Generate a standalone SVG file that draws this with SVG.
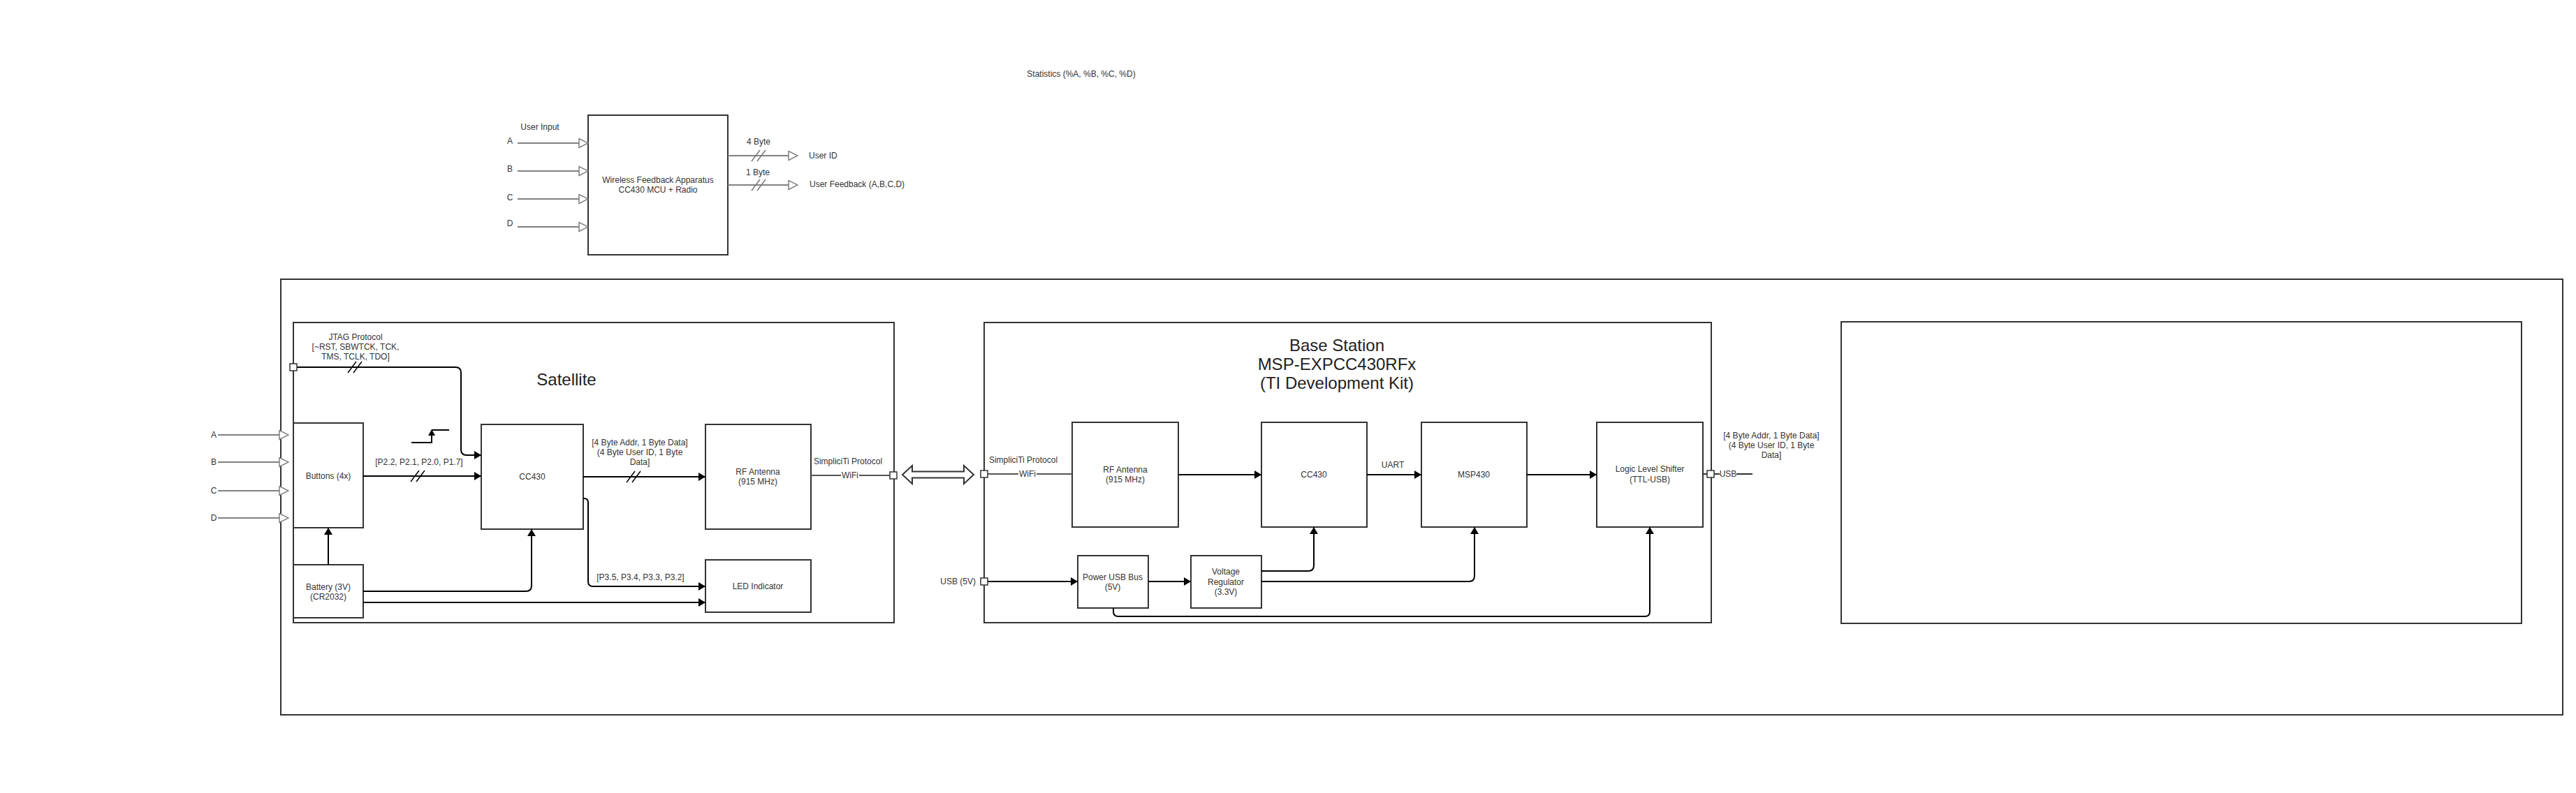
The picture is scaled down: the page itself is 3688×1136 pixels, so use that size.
<svg xmlns="http://www.w3.org/2000/svg" xmlns:xlink="http://www.w3.org/1999/xlink" width="3688" height="1136" viewBox="0 0 3688 1136">
<defs>
<style>
.box{fill:#fff;stroke:#333;stroke-width:2}
.frame{fill:none;stroke:#333;stroke-width:2}
.t{font-family:"Liberation Sans",Arial,sans-serif;font-size:12px;fill:#333;text-anchor:middle;dominant-baseline:central}
.ts{text-anchor:start}
.te{text-anchor:end}
.big{font-size:24px;fill:#222}
.w{fill:none;stroke:#000;stroke-width:2}
.g{fill:none;stroke:#808080;stroke-width:2}
.gd{fill:none;stroke:#555;stroke-width:2}
.port{fill:#fff;stroke:#333;stroke-width:1.5}
.sl{fill:none;stroke-width:1.5}
</style>
<marker id="ah" viewBox="0 0 10 12" refX="10" refY="6" markerWidth="10" markerHeight="12" orient="auto" markerUnits="userSpaceOnUse"><path d="M0,0 L10,6 L0,12 z" fill="#000"/></marker>
<marker id="oh" viewBox="0 0 15 15" refX="14" refY="7.5" markerWidth="15" markerHeight="15" orient="auto" markerUnits="userSpaceOnUse"><path d="M1,1 L14,7.5 L1,14 z" fill="#fff" stroke="#808080" stroke-width="1.5"/></marker>
<g id="slashG"><path class="sl" stroke="#777" d="M-10,8 L2,-8 M-2,8 L10,-8"/></g>
<g id="slashK"><path class="sl" stroke="#000" d="M-10,8 L2,-8 M-2,8 L10,-8"/></g>
</defs>
<rect width="3688" height="1136" fill="#fff"/>

<!-- top overview -->
<text class="t" x="1548" y="106">Statistics (%A, %B, %C, %D)</text>
<g id="apparatus">
<rect class="box" x="842" y="165" width="200" height="200"/>
<text class="t" x="942" y="258">Wireless Feedback Apparatus</text>
<text class="t" x="942" y="272">CC430 MCU + Radio</text>
</g>
<text class="t" x="773" y="182">User Input</text>
<text class="t" x="730" y="202">A</text>
<text class="t" x="730" y="242">B</text>
<text class="t" x="730" y="283">C</text>
<text class="t" x="730" y="320">D</text>
<text class="t" x="1086" y="203">4 Byte</text>
<text class="t" x="1085" y="247">1 Byte</text>
<text class="t ts" x="1158" y="223">User ID</text>
<text class="t ts" x="1159" y="264">User Feedback (A,B,C,D)</text>

<!-- outer frame and containers -->
<rect class="frame" x="402" y="400" width="3267" height="624"/>
<g id="satellite">
<rect class="box" x="420" y="462" width="860" height="430"/>
<text class="t big" x="811" y="543">Satellite</text>
</g>
<g id="base-station">
<rect class="box" x="1409" y="462" width="1041" height="430"/>
<text class="t big" x="1914" y="494">Base Station</text>
<text class="t big" x="1914" y="521">MSP-EXPCC430RFx</text>
<text class="t big" x="1914" y="548">(TI Development Kit)</text>
</g>
<g id="right-box">
<rect class="box" x="2636" y="461" width="974" height="432"/>
</g>

<!-- satellite nodes -->
<g id="buttons"><rect class="box" x="420" y="606" width="100" height="150"/><text class="t" x="470" y="682">Buttons (4x)</text></g>
<g id="cc430-sat"><rect class="box" x="689" y="608" width="146" height="150"/><text class="t" x="762" y="683">CC430</text></g>
<g id="battery"><rect class="box" x="420" y="809" width="100" height="76"/><text class="t" x="470" y="841">Battery (3V)</text><text class="t" x="470" y="855">(CR2032)</text></g>
<g id="rf-sat"><rect class="box" x="1010" y="608" width="151" height="150"/><text class="t" x="1085" y="676">RF Antenna</text><text class="t" x="1085" y="690">(915 MHz)</text></g>
<g id="led"><rect class="box" x="1010" y="802" width="151" height="75"/><text class="t" x="1085" y="840">LED Indicator</text></g>

<!-- base station nodes -->
<g id="rf-base"><rect class="box" x="1535" y="605" width="152" height="150"/><text class="t" x="1611" y="673">RF Antenna</text><text class="t" x="1611" y="687">(915 MHz)</text></g>
<g id="cc430-base"><rect class="box" x="1806" y="605" width="151" height="150"/><text class="t" x="1881" y="680">CC430</text></g>
<g id="msp430"><rect class="box" x="2035" y="605" width="151" height="150"/><text class="t" x="2110" y="680">MSP430</text></g>
<g id="shifter"><rect class="box" x="2286" y="605" width="152" height="150"/><text class="t" x="2362" y="672">Logic Level Shifter</text><text class="t" x="2362" y="687">(TTL-USB)</text></g>
<g id="power-usb"><rect class="box" x="1543" y="796" width="101" height="75"/><text class="t" x="1593" y="827">Power USB Bus</text><text class="t" x="1593" y="841">(5V)</text></g>
<g id="vreg"><rect class="box" x="1705" y="796" width="101" height="75"/><text class="t" x="1755" y="819">Voltage</text><text class="t" x="1755" y="834">Regulator</text><text class="t" x="1755" y="848">(3.3V)</text></g>

<!-- connectors -->
<g id="connectors">
<path class="g" d="M741,205 H842" marker-end="url(#oh)"/>
<path class="g" d="M741,245 H842" marker-end="url(#oh)"/>
<path class="g" d="M741,285 H842" marker-end="url(#oh)"/>
<path class="g" d="M741,325 H842" marker-end="url(#oh)"/>
<path class="g" d="M1042,223 H1142" marker-end="url(#oh)"/>
<path class="g" d="M1042,265 H1142" marker-end="url(#oh)"/>
<use xlink:href="#slashG" x="1086" y="223"/>
<use xlink:href="#slashG" x="1086" y="265"/>

<text class="t" x="306" y="623">A</text>
<text class="t" x="306" y="662">B</text>
<text class="t" x="306" y="703">C</text>
<text class="t" x="306" y="742">D</text>
<path class="g" d="M312,623 H413" marker-end="url(#oh)"/>
<path class="g" d="M312,662 H413" marker-end="url(#oh)"/>
<path class="g" d="M312,703 H413" marker-end="url(#oh)"/>
<path class="g" d="M312,742 H413" marker-end="url(#oh)"/>

<text class="t" x="509" y="483">JTAG Protocol</text>
<text class="t" x="509" y="497">[~RST, SBWTCK, TCK,</text>
<text class="t" x="509" y="511">TMS, TCLK, TDO]</text>
<path class="w" d="M425,526 H652 Q660,526 660,534 V644 Q660,652 668,652 H689" marker-end="url(#ah)"/>
<use xlink:href="#slashK" x="508" y="526"/>
<rect class="port" x="415" y="521" width="10" height="10"/>

<text class="t" x="600" y="662">[P2.2, P2.1, P2.0, P1.7]</text>
<path class="w" d="M520,682 H689" marker-end="url(#ah)"/>
<use xlink:href="#slashK" x="598" y="682"/>
<path class="w" d="M589,634 H618 V623 M618,616 H643"/>
<path d="M613,624 L618,615 L623,624 z" fill="#000"/>

<path class="w" d="M470,809 V756" marker-end="url(#ah)"/>
<path class="w" d="M520,847 H753 Q761,847 761,839 V758" marker-end="url(#ah)"/>
<path class="w" d="M520,863 H1010" marker-end="url(#ah)"/>

<text class="t" x="916" y="634">[4 Byte Addr, 1 Byte Data]</text>
<text class="t" x="916" y="648">(4 Byte User ID, 1 Byte</text>
<text class="t" x="916" y="662">Data]</text>
<path class="w" d="M835,683 H1010" marker-end="url(#ah)"/>
<use xlink:href="#slashK" x="907" y="683"/>

<text class="t" x="917" y="827">[P3.5, P3.4, P3.3, P3.2]</text>
<path class="w" d="M835,714 H836 Q842,714 842,720 V833 Q842,840 849,840 H1010" marker-end="url(#ah)"/>

<text class="t" x="1214" y="661">SimpliciTi Protocol</text>
<path class="gd" d="M1161,681 H1274"/>
<rect x="1204" y="674" width="26" height="14" fill="#fff"/>
<text class="t" x="1217" y="681">WiFi</text>
<rect class="port" x="1274" y="676" width="10" height="10"/>

<path d="M1292,680 L1306,667 L1306,675.5 L1380,675.5 L1380,667 L1394,680 L1380,693 L1380,684.5 L1306,684.5 L1306,693 z" fill="#fff" stroke="#333" stroke-width="2"/>

<text class="t" x="1465" y="659">SimpliciTi Protocol</text>
<path class="gd" d="M1414,679 H1535"/>
<rect x="1458" y="672" width="26" height="14" fill="#fff"/>
<text class="t" x="1471" y="679">WiFi</text>
<rect class="port" x="1404" y="674" width="10" height="10"/>

<path class="w" d="M1687,680 H1806" marker-end="url(#ah)"/>
<text class="t" x="1994" y="666">UART</text>
<path class="w" d="M1957,680 H2035" marker-end="url(#ah)"/>
<path class="w" d="M2186,680 H2286" marker-end="url(#ah)"/>

<text class="t te" x="1397" y="833">USB (5V)</text>
<path class="w" d="M1414,833 H1543" marker-end="url(#ah)"/>
<rect class="port" x="1404" y="828" width="10" height="10"/>
<path class="w" d="M1644,833 H1705" marker-end="url(#ah)"/>
<path class="w" d="M1806,818 H1873 Q1881,818 1881,810 V755" marker-end="url(#ah)"/>
<path class="w" d="M1806,833 H2103 Q2111,833 2111,825 V755" marker-end="url(#ah)"/>
<path class="w" d="M1594,871 V876 Q1594,883 1601,883 H2355 Q2362,883 2362,876 V755" marker-end="url(#ah)"/>

<path class="gd" d="M2438,679 H2509" style="stroke:#333"/>
<rect x="2462" y="672" width="24" height="14" fill="#fff"/>
<text class="t" x="2474" y="679">USB</text>
<rect class="port" x="2444" y="674" width="10" height="10"/>
<text class="t" x="2536" y="624">[4 Byte Addr, 1 Byte Data]</text>
<text class="t" x="2536" y="638">(4 Byte User ID, 1 Byte</text>
<text class="t" x="2536" y="652">Data]</text>
</g>
</svg>
